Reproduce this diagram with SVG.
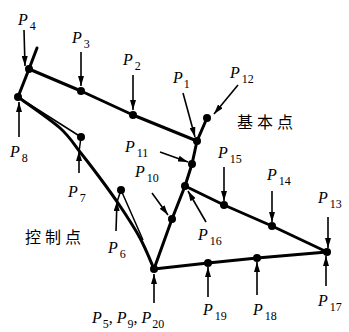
<svg xmlns="http://www.w3.org/2000/svg" width="349" height="332" viewBox="0 0 349 332">
<defs>
<marker id="ah" viewBox="0 0 10 6" refX="10" refY="3" markerWidth="10" markerHeight="6" markerUnits="userSpaceOnUse" orient="auto">
<path d="M0,0 L10,3 L0,6 z" fill="#000"/>
</marker>
</defs>
<style>
.thick{fill:none;stroke:#000;stroke-width:3;stroke-linejoin:round;stroke-linecap:round}
.thin{fill:none;stroke:#000;stroke-width:1.5;stroke-linejoin:round}
.arr{fill:none;stroke:#000;stroke-width:1.6;marker-end:url(#ah)}
.dot{fill:#000}
.lbl{font-family:"Liberation Serif",serif;font-size:16px;fill:#000}
.p{font-style:italic}
.s{font-size:12px;font-style:normal}
.cn{font-family:"Noto Sans CJK SC",sans-serif;font-size:16px;letter-spacing:4px;fill:#000}
</style>
<rect width="349" height="332" fill="#fff"/>
<g id="connectors">
<path class="thick" d="M37,48 L29,69 L18,97"/>
<path class="thick" d="M29,69 L81,91 L133,115 L197,141"/>
<path class="thick" d="M207,118 L197,141 L192,164 L185,186 L172,219 L154,269"/>
<path class="thick" d="M185,186 L224,205 L272,226 L327,252"/>
<path class="thick" d="M154,269 L208,263 L257,258 L327,252"/>
<path class="thick" d="M18,97 C25,102.2 49.7,118.8 60,128 C70.3,137.2 73.3,143.7 80,152 C86.7,160.3 93.3,169 100,178 C106.7,187 113.3,196 120,206 C126.7,216 134.3,227.5 140,238 C145.7,248.5 151.7,263.8 154,269"/>
<path class="thin" d="M18,97 L81,137 L79,152"/>
<path class="thin" d="M117,202 L121,190 L143,240"/>
<line class="arr" x1="24" y1="30" x2="25" y2="66"/>
<line class="arr" x1="81" y1="52" x2="81" y2="86"/>
<line class="arr" x1="133" y1="75" x2="133" y2="110"/>
<line class="arr" x1="183" y1="93" x2="195" y2="137"/>
<line class="arr" x1="238" y1="85" x2="214" y2="114"/>
<line class="arr" x1="160" y1="152" x2="188" y2="162"/>
<line class="arr" x1="152" y1="193" x2="168" y2="215"/>
<line class="arr" x1="206" y1="222" x2="188" y2="191"/>
<line class="arr" x1="224" y1="167" x2="224" y2="201"/>
<line class="arr" x1="272" y1="191" x2="272" y2="222"/>
<line class="arr" x1="328" y1="217" x2="328" y2="248"/>
<line class="arr" x1="326" y1="286" x2="326" y2="256"/>
<line class="arr" x1="257" y1="295" x2="257" y2="262"/>
<line class="arr" x1="208" y1="297" x2="208" y2="267"/>
<line class="arr" x1="154" y1="303" x2="154" y2="274"/>
<line class="arr" x1="19" y1="137" x2="19" y2="102"/>
<line class="arr" x1="79" y1="173" x2="79" y2="151"/>
<line class="arr" x1="116" y1="231" x2="117" y2="201"/>
</g>
<g id="P4"><circle class="dot" cx="29" cy="69" r="4"/><text class="lbl" x="18" y="25"><tspan class="p">P</tspan><tspan class="s" dx="2" dy="5">4</tspan></text></g>
<g id="P3"><circle class="dot" cx="81" cy="91" r="4"/><text class="lbl" x="72" y="43"><tspan class="p">P</tspan><tspan class="s" dx="2" dy="5">3</tspan></text></g>
<g id="P2"><circle class="dot" cx="133" cy="115" r="4"/><text class="lbl" x="123" y="65"><tspan class="p">P</tspan><tspan class="s" dx="2" dy="5">2</tspan></text></g>
<g id="P1"><circle class="dot" cx="197" cy="141" r="4"/><text class="lbl" x="173" y="83"><tspan class="p">P</tspan><tspan class="s" dx="1" dy="5">1</tspan></text></g>
<g id="P12"><circle class="dot" cx="207" cy="118" r="4"/><text class="lbl" x="230" y="78"><tspan class="p">P</tspan><tspan class="s" dx="2" dy="5">12</tspan></text></g>
<g id="P11"><circle class="dot" cx="192" cy="164" r="4"/><text class="lbl" x="125" y="152"><tspan class="p">P</tspan><tspan class="s" dx="2" dy="5">11</tspan></text></g>
<g id="P16"><circle class="dot" cx="185" cy="186" r="4"/><text class="lbl" x="198" y="240"><tspan class="p">P</tspan><tspan class="s" dx="2" dy="5">16</tspan></text></g>
<g id="P10"><circle class="dot" cx="172" cy="219" r="4"/><text class="lbl" x="135" y="177"><tspan class="p">P</tspan><tspan class="s" dx="2" dy="5">10</tspan></text></g>
<g id="P15"><circle class="dot" cx="224" cy="205" r="4"/><text class="lbl" x="218" y="158"><tspan class="p">P</tspan><tspan class="s" dx="2" dy="5">15</tspan></text></g>
<g id="P14"><circle class="dot" cx="272" cy="226" r="4"/><text class="lbl" x="267" y="180"><tspan class="p">P</tspan><tspan class="s" dx="2" dy="5">14</tspan></text></g>
<g id="P13"><circle class="dot" cx="327" cy="252" r="4"/><text class="lbl" x="318" y="203"><tspan class="p">P</tspan><tspan class="s" dx="2" dy="5">13</tspan></text></g>
<g id="P17"><text class="lbl" x="318" y="306"><tspan class="p">P</tspan><tspan class="s" dx="2" dy="5">17</tspan></text></g>
<g id="P18"><circle class="dot" cx="257" cy="258" r="4"/><text class="lbl" x="253" y="315"><tspan class="p">P</tspan><tspan class="s" dx="2" dy="5">18</tspan></text></g>
<g id="P19"><circle class="dot" cx="208" cy="263" r="4"/><text class="lbl" x="203" y="315"><tspan class="p">P</tspan><tspan class="s" dx="2" dy="5">19</tspan></text></g>
<g id="P5"><circle class="dot" cx="154" cy="269" r="4"/><text class="lbl" x="92" y="323"><tspan class="p">P</tspan><tspan class="s" dx="1" dy="5">5</tspan><tspan dy="-5">, </tspan><tspan class="p">P</tspan><tspan class="s" dx="1" dy="5">9</tspan><tspan dy="-5">, </tspan><tspan class="p">P</tspan><tspan class="s" dx="1" dy="5">20</tspan></text></g>
<g id="P8"><circle class="dot" cx="18" cy="97" r="4"/><text class="lbl" x="10" y="157"><tspan class="p">P</tspan><tspan class="s" dx="2" dy="5">8</tspan></text></g>
<g id="P7"><circle class="dot" cx="81" cy="137" r="4"/><text class="lbl" x="68" y="197"><tspan class="p">P</tspan><tspan class="s" dx="2" dy="5">7</tspan></text></g>
<g id="P6"><circle class="dot" cx="121" cy="190" r="4"/><text class="lbl" x="108" y="253"><tspan class="p">P</tspan><tspan class="s" dx="2" dy="5">6</tspan></text></g>
<g id="basic"><text class="cn" x="237" y="128">基本点</text></g>
<g id="control"><text class="cn" x="25" y="243">控制点</text></g>
</svg>
